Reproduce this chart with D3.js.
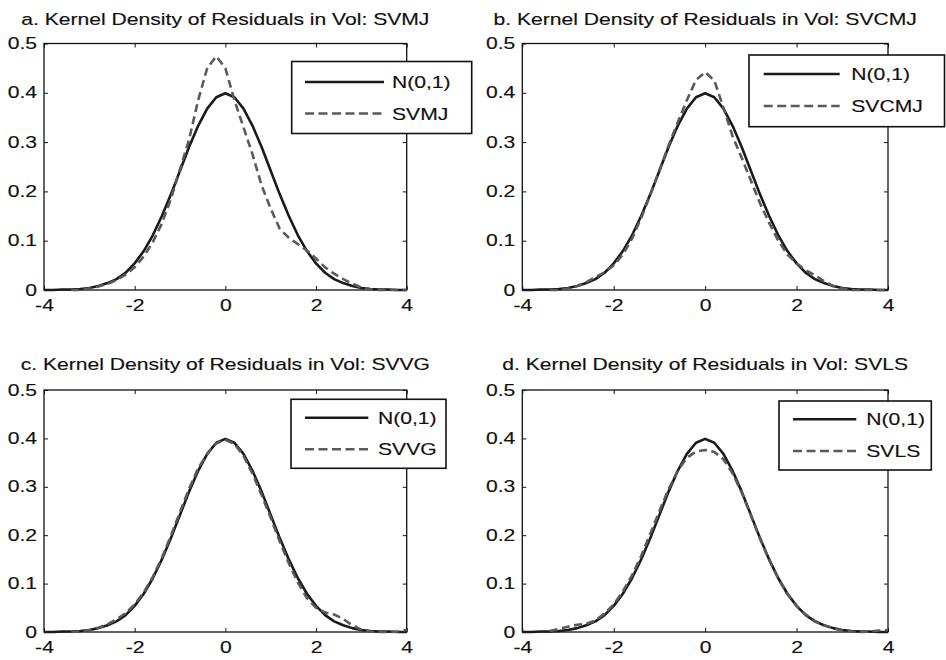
<!DOCTYPE html>
<html><head><meta charset="utf-8">
<script src="https://cdn.jsdelivr.net/npm/d3@7"></script>
<style>body{margin:0;background:#fff} svg{display:block}</style>
</head><body><svg id="chart" width="946" height="660"></svg>
<script>
// ---- data ----
const xGrid = [-4,-3.8,-3.6,-3.4,-3.2,-3,-2.8,-2.6,-2.4,-2.2,-2,-1.8,-1.6,-1.4,-1.2,-1,-0.8,-0.6,-0.4,-0.2,0,0.2,0.4,0.6,0.8,1,1.2,1.4,1.6,1.8,2,2.2,2.4,2.6,2.8,3,3.2,3.4,3.6,3.8,4];
const normalDensity = [0,0,0.001,0.001,0.002,0.004,0.008,0.014,0.022,0.035,0.054,0.079,0.111,0.150,0.194,0.242,0.290,0.333,0.368,0.391,0.399,0.391,0.368,0.333,0.290,0.242,0.194,0.150,0.111,0.079,0.054,0.035,0.022,0.014,0.008,0.004,0.002,0.001,0.001,0,0];
const svmjDensity = [null,null,null,0,0,0.003,0.007,0.012,0.020,0.031,0.046,0.068,0.097,0.135,0.185,0.245,0.305,0.385,0.450,0.474,0.450,0.385,0.330,0.275,0.212,0.165,0.124,0.106,0.093,0.080,0.064,0.046,0.033,0.022,0.013,0.005,0.001,0,0,0,0];
const svcmjDensity = [null,null,null,0,0,0.003,0.008,0.016,0.026,0.036,0.050,0.072,0.104,0.146,0.193,0.243,0.293,0.340,0.385,0.426,0.442,0.425,0.370,0.312,0.268,0.222,0.176,0.136,0.100,0.072,0.054,0.040,0.030,0.018,0.008,0.003,0,0,0,0,0];
const svvgDensity = [null,null,null,0,0.001,0.004,0.009,0.016,0.026,0.039,0.057,0.082,0.114,0.153,0.199,0.248,0.296,0.338,0.368,0.390,0.397,0.389,0.364,0.327,0.283,0.236,0.187,0.142,0.102,0.070,0.050,0.040,0.036,0.027,0.014,0.005,0.001,0,0,0.001,0.004];
const svlsDensity = [null,null,null,0.002,0.006,0.011,0.015,0.017,0.024,0.038,0.057,0.084,0.117,0.157,0.203,0.250,0.295,0.333,0.360,0.373,0.376,0.372,0.357,0.328,0.288,0.241,0.193,0.149,0.110,0.078,0.054,0.036,0.023,0.014,0.008,0.003,0.001,0,0.001,0.003,0.004];
const panelTitles = ["a. Kernel Density of Residuals in Vol: SVMJ","b. Kernel Density of Residuals in Vol: SVCMJ","c. Kernel Density of Residuals in Vol: SVVG","d. Kernel Density of Residuals in Vol: SVLS"];
const modelNames = ["SVMJ","SVCMJ","SVVG","SVLS"];
const normalLabel = "N(0,1)";
const xTicks = [-4,-2,0,2,4];
const xTickLabels = ["-4","-2","0","2","4"];
const yTicks = [0,0.1,0.2,0.3,0.4,0.5];
const yTickLabels = ["0","0.1","0.2","0.3","0.4","0.5"];
const modelSeries = [svmjDensity, svcmjDensity, svvgDensity, svlsDensity];

// ---- layout ----
const FONT = "'Liberation Sans', Arial, Helvetica, sans-serif";
const FS = 16, SX = 1.32;
const layout = [
  {x0:44, x1:406.7, y0:43.5, y1:290, ty:25,
   lg:{x0:291.7,x1:471.7,y0:61.5,y1:133.5,lx0:305,lx1:384,r1:82,r2:113.5,tx:392}},
  {x0:522.3, x1:888, y0:43.5, y1:290, ty:25,
   lg:{x0:749,x1:944.5,y0:55,y1:126.7,lx0:763.7,lx1:839.7,r1:74,r2:106,tx:851.3}},
  {x0:44, x1:406.7, y0:390, y1:632, ty:370,
   lg:{x0:291,x1:446,y0:399.3,y1:468.3,lx0:305,lx1:368.3,r1:417.7,r2:449.3,tx:378}},
  {x0:522.3, x1:888, y0:390, y1:632, ty:370,
   lg:{x0:779,x1:931.3,y0:401,y1:470,lx0:793,lx1:856.3,r1:419.3,r2:451,tx:866.3}}
];

const svg = d3.select("#chart");
svg.append("rect").attr("width",946).attr("height",660).attr("fill","#fff");

function styleText(sel){
  sel.attr("font-family",FONT).attr("font-size",FS).attr("fill","#111")
     .attr("stroke","#111").attr("stroke-width",0.15);
}
function stretchedText(g, x, y, s, anchor){
  g.append("g").attr("transform",`translate(${x},${y}) scale(${SX},1)`)
   .append("text").attr("text-anchor",anchor).text(s).call(styleText);
}

layout.forEach((L,i)=>{
  const g = svg.append("g");
  const x = d3.scaleLinear().domain([-4,4]).range([L.x0,L.x1]);
  const y = d3.scaleLinear().domain([0,0.5]).range([L.y1,L.y0]);

  // title
  stretchedText(g, (L.x0+L.x1)/2, L.ty, panelTitles[i], "middle");

  // axes
  const styleAxis = sel => {
    sel.select(".domain").remove();
    sel.selectAll(".tick line").attr("stroke","#111").attr("stroke-width",1);
    sel.selectAll("text").call(styleText);
  };
  g.append("g").attr("transform",`translate(0,${L.y1})`)
    .call(d3.axisBottom(x).tickValues(xTicks).tickSizeInner(-4).tickSizeOuter(0).tickPadding(10)
      .tickFormat((d,k)=>xTickLabels[k]))
    .call(styleAxis)
    .call(s=>s.selectAll("text").attr("transform",`scale(${SX},1)`));
  g.append("g").attr("transform",`translate(0,${L.y0})`)
    .call(d3.axisTop(x).tickValues(xTicks).tickSizeInner(-4).tickSizeOuter(0).tickFormat(""))
    .call(styleAxis);
  g.append("g").attr("transform",`translate(${L.x0},0)`)
    .call(d3.axisLeft(y).tickValues(yTicks).tickSizeInner(-4).tickSizeOuter(0).tickPadding(7)
      .tickFormat((d,k)=>yTickLabels[k]))
    .call(styleAxis)
    .call(s=>s.selectAll("text").attr("x",-7/SX).attr("transform",`scale(${SX},1)`));
  g.append("g").attr("transform",`translate(${L.x1},0)`)
    .call(d3.axisRight(y).tickValues(yTicks).tickSizeInner(-4).tickSizeOuter(0).tickFormat(""))
    .call(styleAxis);

  g.append("rect").attr("x",L.x0).attr("y",L.y0).attr("width",L.x1-L.x0).attr("height",L.y1-L.y0)
    .attr("fill","none").attr("stroke","#111").attr("stroke-width",1.3);

  // curves
  const line = d3.line().defined(d=>d[1]!==null).x(d=>x(d[0])).y(d=>y(d[1]));
  g.append("path").datum(xGrid.map((v,k)=>[v,normalDensity[k]]))
    .attr("d",line).attr("fill","none").attr("stroke","#1a1a1a").attr("stroke-width",2.6)
    .attr("stroke-linejoin","round");
  g.append("path").datum(xGrid.map((v,k)=>[v,modelSeries[i][k]]))
    .attr("d",line).attr("fill","none").attr("stroke","#5a5a5a").attr("stroke-width",2.6)
    .attr("stroke-dasharray","8,4.5");

  // legend
  const lg = L.lg;
  g.append("rect").attr("x",lg.x0).attr("y",lg.y0).attr("width",lg.x1-lg.x0).attr("height",lg.y1-lg.y0)
    .attr("fill","#fff").attr("stroke","#111").attr("stroke-width",1.6);
  g.append("line").attr("x1",lg.lx0).attr("x2",lg.lx1).attr("y1",lg.r1).attr("y2",lg.r1)
    .attr("stroke","#1a1a1a").attr("stroke-width",2.6);
  g.append("line").attr("x1",lg.lx0).attr("x2",lg.lx1).attr("y1",lg.r2).attr("y2",lg.r2)
    .attr("stroke","#5a5a5a").attr("stroke-width",2.6).attr("stroke-dasharray","9,4.5");
  stretchedText(g, lg.tx, lg.r1+6, normalLabel, "start");
  stretchedText(g, lg.tx, lg.r2+6, modelNames[i], "start");
});
</script></body></html>
